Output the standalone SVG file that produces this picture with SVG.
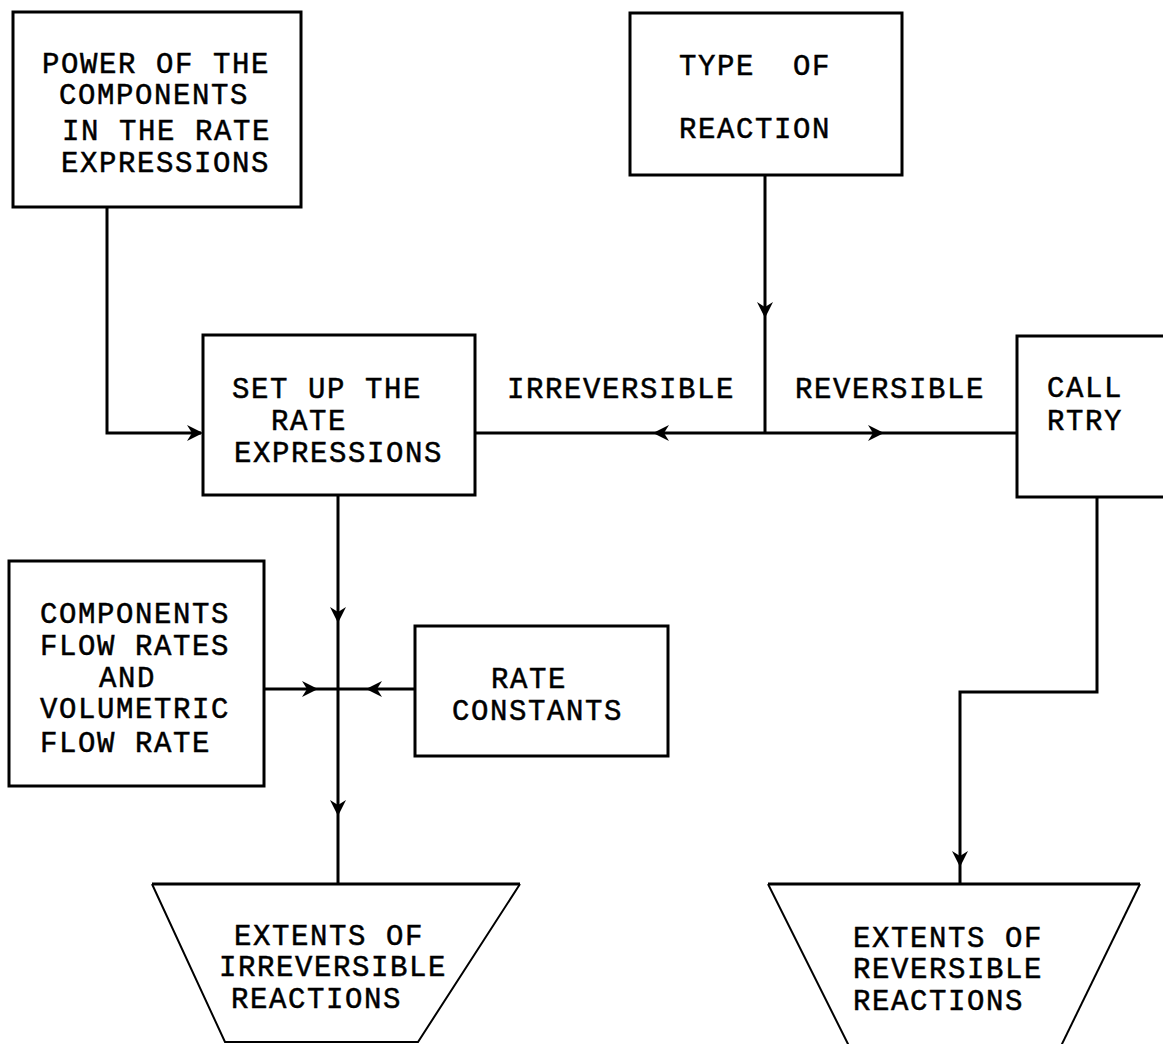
<svg xmlns="http://www.w3.org/2000/svg" width="1163" height="1044" viewBox="0 0 1163 1044">
<style>
.box{fill:none;stroke:#000;stroke-width:3;stroke-linejoin:miter}
.trap{fill:none;stroke:#000;stroke-width:2}
.trapTop{fill:none;stroke:#000;stroke-width:3}
.ln{fill:none;stroke:#000;stroke-width:3}
text{font-family:"Liberation Mono","Courier New",monospace;font-size:29px;letter-spacing:1.6px;fill:#000;stroke:#000;stroke-width:0.5px}
</style>
<defs>
<path id="ah" d="M0,0 L-16,-8 L-11,0 L-16,8 Z" fill="#000"/>
</defs>
<rect width="1163" height="1044" fill="#fff"/>

<g id="connectors">
<polyline class="ln" points="107,207 107,433 201,433"/>
<line class="ln" x1="765" y1="175" x2="765" y2="433"/>
<line class="ln" x1="475" y1="433" x2="1017" y2="433"/>
<line class="ln" x1="338" y1="495" x2="338" y2="884"/>
<line class="ln" x1="264" y1="689" x2="415" y2="689"/>
<polyline class="ln" points="1097,497 1097,692 960,692 960,884"/>
<use href="#ah" transform="translate(203,433)"/>
<use href="#ah" transform="translate(765,318) rotate(90)"/>
<use href="#ah" transform="translate(653,433) rotate(180)"/>
<use href="#ah" transform="translate(884,433)"/>
<use href="#ah" transform="translate(338,623) rotate(90)"/>
<use href="#ah" transform="translate(338,816) rotate(90)"/>
<use href="#ah" transform="translate(318,689)"/>
<use href="#ah" transform="translate(366,689) rotate(180)"/>
<use href="#ah" transform="translate(960,867) rotate(90)"/>
</g>

<g id="power">
<rect class="box" x="13" y="12" width="288" height="195"/>
<text x="42" y="73">POWER OF THE</text>
<text x="59" y="104">COMPONENTS</text>
<text x="62" y="140">IN THE RATE</text>
<text x="61" y="172">EXPRESSIONS</text>
</g>

<g id="type">
<rect class="box" x="630" y="13" width="272" height="162"/>
<text x="679" y="75" xml:space="preserve">TYPE  OF</text>
<text x="679" y="138">REACTION</text>
</g>

<g id="setup">
<rect class="box" x="203" y="335" width="272" height="160"/>
<text x="232" y="398">SET UP THE</text>
<text x="271" y="430">RATE</text>
<text x="234" y="462">EXPRESSIONS</text>
</g>

<g id="labels">
<text x="507" y="398">IRREVERSIBLE</text>
<text x="795" y="398">REVERSIBLE</text>
</g>

<g id="call">
<rect class="box" x="1017" y="336" width="160" height="161"/>
<text x="1047" y="397">CALL</text>
<text x="1047" y="430">RTRY</text>
</g>

<g id="flowrates">
<rect class="box" x="9" y="561" width="255" height="225"/>
<text x="40" y="623">COMPONENTS</text>
<text x="40" y="655">FLOW RATES</text>
<text x="99" y="687">AND</text>
<text x="40" y="718">VOLUMETRIC</text>
<text x="40" y="752">FLOW RATE</text>
</g>

<g id="rateconst">
<rect class="box" x="415" y="626" width="253" height="130"/>
<text x="491" y="688">RATE</text>
<text x="452" y="720">CONSTANTS</text>
</g>

<g id="extIrr">
<polyline class="trap" points="520,884 418,1042 225,1042 152,884"/>
<line class="trapTop" x1="152" y1="884" x2="520" y2="884"/>
<text x="234" y="945">EXTENTS OF</text>
<text x="219" y="976">IRREVERSIBLE</text>
<text x="231" y="1008">REACTIONS</text>
</g>

<g id="extRev">
<line class="trap" x1="1140" y1="884" x2="1061" y2="1046"/>
<line class="trap" x1="768" y1="884" x2="849" y2="1046"/>
<line class="trapTop" x1="768" y1="884" x2="1140" y2="884"/>
<text x="853" y="947">EXTENTS OF</text>
<text x="853" y="978">REVERSIBLE</text>
<text x="853" y="1010">REACTIONS</text>
</g>
</svg>
